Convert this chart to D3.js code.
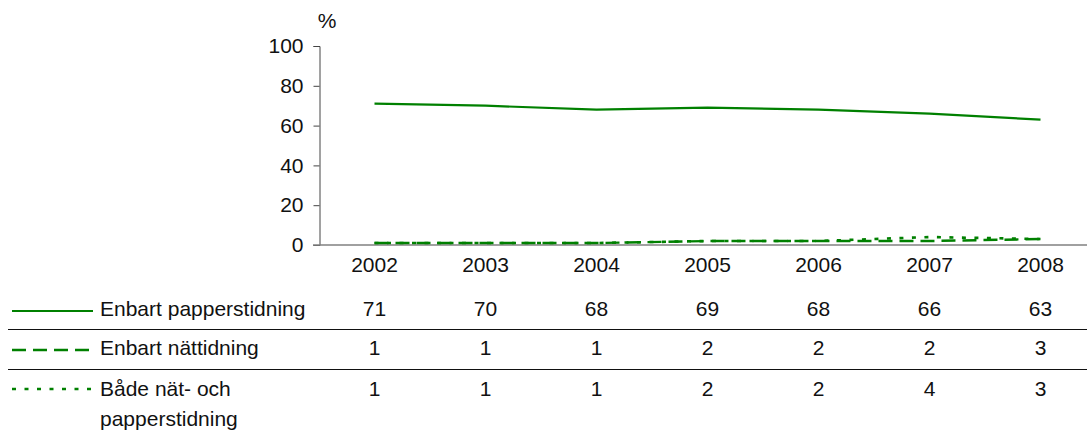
<!DOCTYPE html>
<html>
<head>
<meta charset="utf-8">
<script src="https://cdn.jsdelivr.net/npm/d3@7"></script>
<style>
  body { margin: 0; background: #fff; }
  text { font-family: "Liberation Sans", Arial, sans-serif; fill: #111; }
</style>
</head>
<body>
<script>
// data
const years = ["2002", "2003", "2004", "2005", "2006", "2007", "2008"];
const paperOnly = [71, 70, 68, 69, 68, 66, 63];
const netOnly = [1, 1, 1, 2, 2, 2, 3];
const both = [1, 1, 1, 2, 2, 4, 3];
const seriesNames = ["Enbart papperstidning", "Enbart nättidning", "Både nät- och papperstidning"];
const yTicks = [0, 20, 40, 60, 80, 100];

const width = 1087, height = 430;
const green = "#008000";
const fontSize = 21;

const svg = d3.select("body").append("svg")
    .attr("width", width)
    .attr("height", height);

// scales
const x = d3.scaleBand().domain(years).range([319, 1096]).padding(0);
const y = d3.scaleLinear().domain([0, 100]).range([245, 46]);
const cx = d => x(d) + x.bandwidth() / 2;

// y axis
const yAxis = svg.append("g")
    .attr("transform", "translate(319.5,0)")
    .call(d3.axisLeft(y).tickValues(yTicks).tickSize(6).tickPadding(10));
yAxis.select(".domain").attr("stroke", "#444");
yAxis.selectAll(".tick line").attr("stroke", "#444");
yAxis.selectAll("text").style("font-size", fontSize + "px").attr("fill", "#111");

svg.append("text")
    .attr("x", 327)
    .attr("y", 28)
    .attr("text-anchor", "middle")
    .style("font-size", fontSize + "px")
    .text("%");

// x axis
const xAxis = svg.append("g")
    .attr("transform", "translate(0,245)")
    .call(d3.axisBottom(x).tickSize(0).tickPadding(12));
xAxis.select(".domain").remove();
xAxis.selectAll("text").style("font-size", fontSize + "px").attr("fill", "#111");
svg.append("line")
    .attr("x1", 313).attr("x2", width)
    .attr("y1", 245).attr("y2", 245)
    .attr("stroke", "#808080")
    .attr("stroke-width", 1.5);

// lines
const series = [
    {name: seriesNames[0], values: paperOnly, dash: null, w: 2.2},
    {name: seriesNames[1], values: netOnly, dash: "14,7", w: 2.4},
    {name: seriesNames[2], values: both, dash: "4,8.5", w: 2.6}
];

const line = d3.line()
    .x((d, i) => cx(years[i]))
    .y(d => y(d));

svg.selectAll(".series")
    .data(series)
    .enter().append("path")
    .attr("class", "series")
    .attr("d", d => line(d.values))
    .attr("fill", "none")
    .attr("stroke", green)
    .attr("stroke-width", d => d.w)
    .attr("stroke-dasharray", d => d.dash);

// data table
const rowY = [311, 350, 389];

series.forEach((s, r) => {
    svg.append("line")
        .attr("x1", 12).attr("x2", 93)
        .attr("y1", rowY[r]).attr("y2", rowY[r])
        .attr("stroke", green)
        .attr("stroke-width", s.w)
        .attr("stroke-dasharray", s.dash);

    const base = rowY[r] + (r === 2 ? 7 : 5);
    const label = svg.append("text")
        .attr("x", 100)
        .attr("y", base)
        .style("font-size", fontSize + "px");
    if (r === 2) {
        label.append("tspan").attr("x", 100).text("Både nät- och");
        label.append("tspan").attr("x", 100).attr("dy", 30).text("papperstidning");
    } else {
        label.text(s.name);
    }

    svg.selectAll(".v" + r)
        .data(s.values)
        .enter().append("text")
        .attr("x", (d, i) => cx(years[i]))
        .attr("y", base)
        .attr("text-anchor", "middle")
        .style("font-size", fontSize + "px")
        .text(d => d);
});

// row separators
[329.5, 369.5].forEach(yy => {
    svg.append("line")
        .attr("x1", 8).attr("x2", width)
        .attr("y1", yy).attr("y2", yy)
        .attr("stroke", "#111")
        .attr("stroke-width", 1);
});
</script>
</body>
</html>
